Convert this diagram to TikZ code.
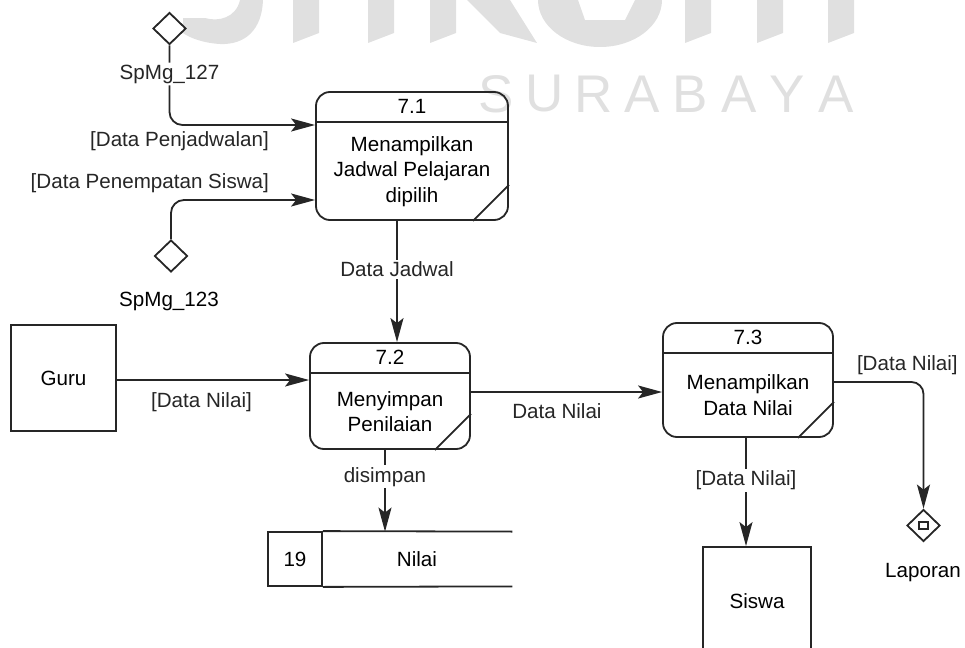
\documentclass[tikz,border=0pt]{standalone}
\usepackage{fontspec}
\setmainfont{Liberation Sans}
\usetikzlibrary{shapes.geometric,arrows.meta}
\definecolor{wmgray}{RGB}{224,224,224}

\begin{document}
\begin{tikzpicture}[x=0.5pt,y=-0.5pt,font=\fontsize{10.3}{12.7}\selectfont]
            \tikzstyle{process}=[rectangle,rounded corners=7pt,draw=black!85,line width=0.9pt,inner sep=0pt]
            \tikzstyle{entity}=[rectangle,draw=black!85,line width=0.9pt,inner sep=0pt]
            \tikzstyle{spmg}=[diamond,draw=black!85,line width=0.9pt,inner sep=0pt,minimum width=16.5pt,minimum height=16pt]
            \tikzstyle{edge}=[draw,black!85,line width=0.9pt,-{Stealth[length=12pt,width=6.5pt,inset=2.5pt]}]
            \tikzstyle{flow}=[fill=white,inner sep=1pt]
            \tikzstyle{wm}=[text=wmgray,inner sep=0pt,font=\fontsize{26.5}{30}\selectfont]
            \useasboundingbox (0,0) rectangle (965,648);
            % watermark
            \begin{scope}
               \fill[wmgray] (183,18) -- (205,18) .. controls (218,22) and (236,18) .. (240,0) -- (263,0) .. controls (262,30) and (245,45) .. (220,44) .. controls (203,43) and (190,38) .. (183,33) -- cycle;
               \foreach \x in {293,368,430,685,757,828}
                  \fill[wmgray] (\x,0) -- ++(26,0) -- ++(0,33) -- ++(-26,10) -- cycle;
               \fill[wmgray] (467,0) -- (510,0) -- (537,43) -- (500,33) -- cycle;
               \fill[wmgray,even odd rule] (600,0) ellipse [x radius=62,y radius=47] (578,0) -- (585,20) -- (625,20) -- (635,0) -- cycle;
               \foreach \l [count=\i from 0] in {S,U,R,A,B,A,Y,A}
                  \node[wm] (wm\i) at (496+48.6*\i,94) {\l};
            \end{scope}
            % processes
            \begin{scope}
               \node [process,minimum width=96pt,minimum height=64pt] (p71) at (412,156) {};
               \node [process,minimum width=80pt,minimum height=53pt] (p72) at (390,396) {};
               \node [process,minimum width=85pt,minimum height=57pt] (p73) at (748,380) {};
               \foreach \p in {p71,p72,p73} {
                  \draw[black!85,line width=0.9pt] ([yshift=-15.5pt]\p.north west) -- ([yshift=-15.5pt]\p.north east);
                  \draw[black!85,line width=0.9pt] ([xshift=-18pt]\p.south east) -- ([yshift=18pt]\p.south east);
               }
               \node (n71) at ([yshift=-7.75pt]p71.north) {7.1};
               \node (n72) at ([yshift=-7.75pt]p72.north) {7.2};
               \node (n73) at ([yshift=-7.5pt]p73.north) {7.3};
               \node [align=center] (t71) at ([yshift=-7.75pt]p71.center) {Menampilkan\\Jadwal Pelajaran\\dipilih};
               \node [align=center] (t72) at ([yshift=-7.75pt]p72.center) {Menyimpan\\Penilaian};
               \node [align=center] (t73) at ([yshift=-7.5pt]p73.center) {Menampilkan\\Data Nilai};
            \end{scope}
            % entities, store, connectors
            \begin{scope}
               \node [entity,minimum width=52.5pt,minimum height=53pt] (guru) at (63.5,378) {Guru};
               \node [entity,minimum width=54pt,minimum height=54pt] (siswa) at (757,601) {Siswa};
               \node [entity,minimum width=27pt,minimum height=27pt] (ds19) at (295,559) {19};
               \node [minimum width=95pt,minimum height=27pt,inner sep=0pt] (nilai) at (417,559) {Nilai};
               \draw[black!85,line width=0.9pt] (ds19.north east) -- (nilai.north east) (ds19.south east) -- (nilai.south east);
               \node [spmg] (d127) at (169.5,28.5) {};
               \node [spmg] (d123) at (171,256) {};
               \node [spmg] (lap) at (923.5,525.5) {};
               \node [draw=black!85,line width=0.9pt,minimum width=4.5pt,minimum height=3.5pt,inner sep=0pt] (lapbox) at (lap) {};
               \node (l123) at (169,301) {SpMg\_123};
               \node (llap) at (923,573) {Laporan};
               \path[edge,rounded corners=6.5pt] (d127.south) |- ([yshift=15.5pt]p71.west) node[flow,pos=0.18] {SpMg\_127} node[pos=0.867,anchor=east,yshift=-8pt] {[Data Penjadwalan]};
               \path[edge,rounded corners=6.5pt] (d123.north) |- ([yshift=-22pt]p71.west) node[pos=0.866,anchor=east,yshift=8.5pt] {[Data Penempatan Siswa]};
               \path[edge] ([xshift=3.5pt]p72.north |- p71.south) -- ([xshift=3.5pt]p72.north) node[flow,pos=0.4] {Data Jadwal};
               \path[edge] ([yshift=-1pt]guru.east) -- ([yshift=-1pt]guru.east -| p72.west) node[pos=0.44,yshift=-11pt] {[Data Nilai]};
               \path[edge] ([yshift=2pt]p72.east) -- ([yshift=2pt]p72.east -| p73.west) node[pos=0.45,yshift=-9.5pt] {Data Nilai};
               \path[edge] ([xshift=-2.5pt]p72.south) -- ([xshift=-2.5pt]p72.south |- nilai.north) node[flow,pos=0.33] {disimpan};
               \path[edge] ([xshift=-1pt]p73.south) -- ([xshift=-1pt]p73.south |- siswa.north) node[flow,pos=0.39] {[Data Nilai]};
               \path[edge,rounded corners=6pt] ([yshift=-1pt]p73.east) -| (lap.north) node[pos=0.41,yshift=8.5pt] {[Data Nilai]};
            \end{scope}
        \end{tikzpicture}
\end{document}
